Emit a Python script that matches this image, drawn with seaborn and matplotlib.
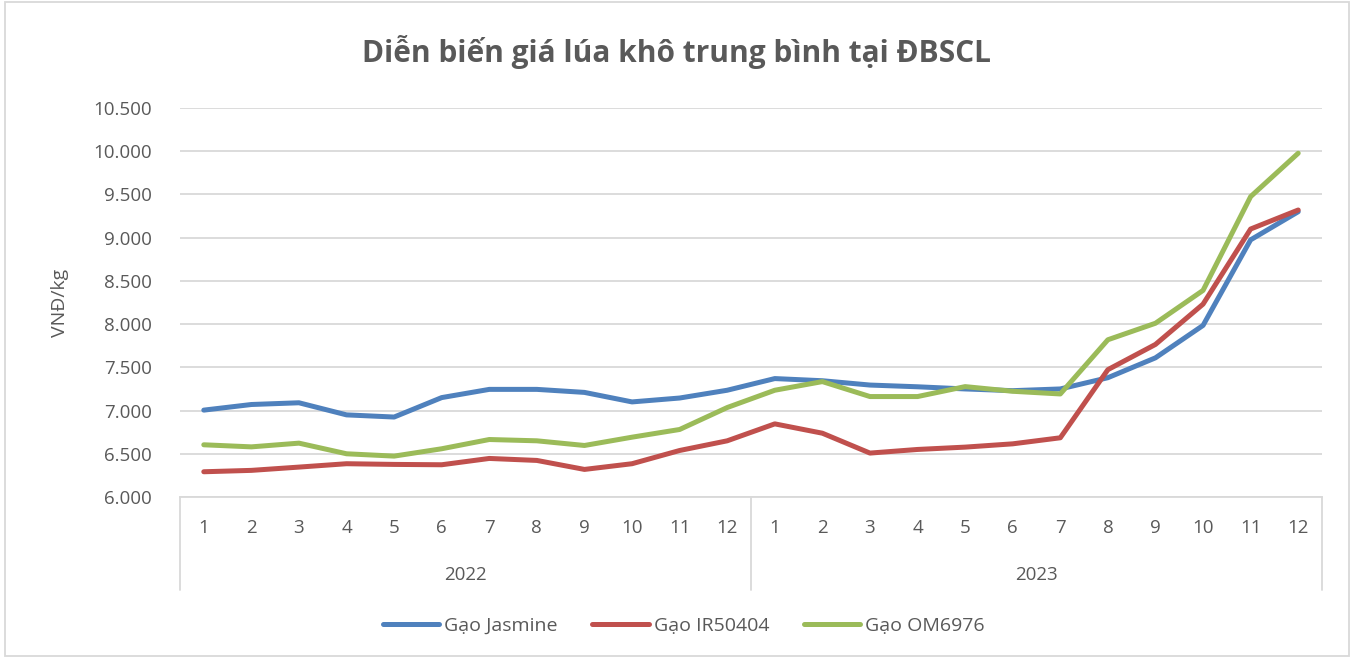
import pandas as pd
import numpy as np
import matplotlib.pyplot as plt
import matplotlib.ticker as mticker
from matplotlib.patches import Rectangle
import seaborn as sns

# data
months = [str(m) for m in range(1, 13)] * 2
years = ['2022', '2023']
series = ['Gạo Jasmine', 'Gạo IR50404', 'Gạo OM6976']
jasmine = [7005, 7070, 7090, 6950, 6925, 7150, 7245, 7245, 7210, 7100, 7145, 7235,
           7370, 7345, 7295, 7275, 7250, 7230, 7250, 7380, 7610, 7985, 8975, 9300]
ir50404 = [6292, 6308, 6346, 6385, 6377, 6373, 6446, 6423, 6319, 6385, 6538, 6650,
           6846, 6738, 6508, 6550, 6577, 6615, 6685, 7473, 7765, 8231, 9100, 9320]
om6976 = [6604, 6580, 6623, 6500, 6473, 6558, 6665, 6650, 6596, 6692, 6781, 7035,
          7235, 7335, 7162, 7162, 7277, 7223, 7192, 7819, 8010, 8390, 9475, 9977]
colors = ['#4F81BD', '#C0504D', '#9BBB59']

df = pd.DataFrame({
    'x': list(range(24)) * 3,
    'price': jasmine + ir50404 + om6976,
    'series': [s for s in series for _ in range(24)],
})

sns.set_style('white')
plt.rcParams['font.family'] = ['Open Sans', 'DejaVu Sans']
txt = '#595959'
grid = '#D9D9D9'

fig = plt.figure(figsize=(13.54, 6.59), dpi=100)
ax = fig.add_axes([180/1354, 1 - 497/659, 1142/1354, 389/659])

sns.lineplot(data=df, x='x', y='price', hue='series', palette=colors,
             linewidth=3.6, ax=ax, legend=False, solid_capstyle='round')

ax.set_xlim(-0.5, 23.5)
ax.set_ylim(6000, 10500)
ax.set_yticks(np.arange(6000, 10501, 500))
ax.yaxis.set_major_formatter(mticker.FuncFormatter(lambda v, p: f'{int(v):,}'.replace(',', '.')))
ax.tick_params(axis='y', length=0, pad=20, labelsize=13.5, labelcolor=txt)
ax.grid(axis='y', color=grid, linewidth=1.3)
ax.set_axisbelow(True)
for s in ['top', 'right', 'left']:
    ax.spines[s].set_visible(False)
ax.spines['bottom'].set_color(grid)
ax.spines['bottom'].set_linewidth(1.3)

# multi-level category axis
ax.set_xticks([])
ax.set_xlabel('')
trans = ax.get_xaxis_transform()
for i, m in enumerate(months):
    ax.text(i, -0.08, m, transform=trans, ha='center', va='center', fontsize=13.5, color=txt)
for j, y in enumerate(years):
    ax.text(j * 12 + 5.5, -0.20, y, transform=trans, ha='center', va='center', fontsize=13.5, color=txt)
for xv in [-0.5, 11.5, 23.5]:
    ax.plot([xv, xv], [0, -0.24], transform=trans, color=grid, linewidth=1.3, clip_on=False)

ax.set_ylabel('VNĐ/kg', fontsize=14, color=txt)
ax.yaxis.set_label_coords(-0.097, 0.5)

fig.text(0.5, 1 - 52/659, 'Diễn biến giá lúa khô trung bình tại ĐBSCL',
         ha='center', va='center', fontsize=21.5, fontweight='bold', color=txt)

handles = [plt.Line2D([], [], color=c, linewidth=3.6, solid_capstyle='round') for c in colors]
fig.legend(handles, series, loc='center', bbox_to_anchor=(0.505, 1 - 626/659), ncol=3,
           frameon=False, fontsize=14, labelcolor=txt, handlelength=2.9,
           handletextpad=0.25, columnspacing=1.8)

fig.patches.append(Rectangle((0.004, 0.004), 0.992, 0.993, transform=fig.transFigure,
                             fill=False, edgecolor=grid, linewidth=1.3))

fig.savefig('out.png', dpi=100)
